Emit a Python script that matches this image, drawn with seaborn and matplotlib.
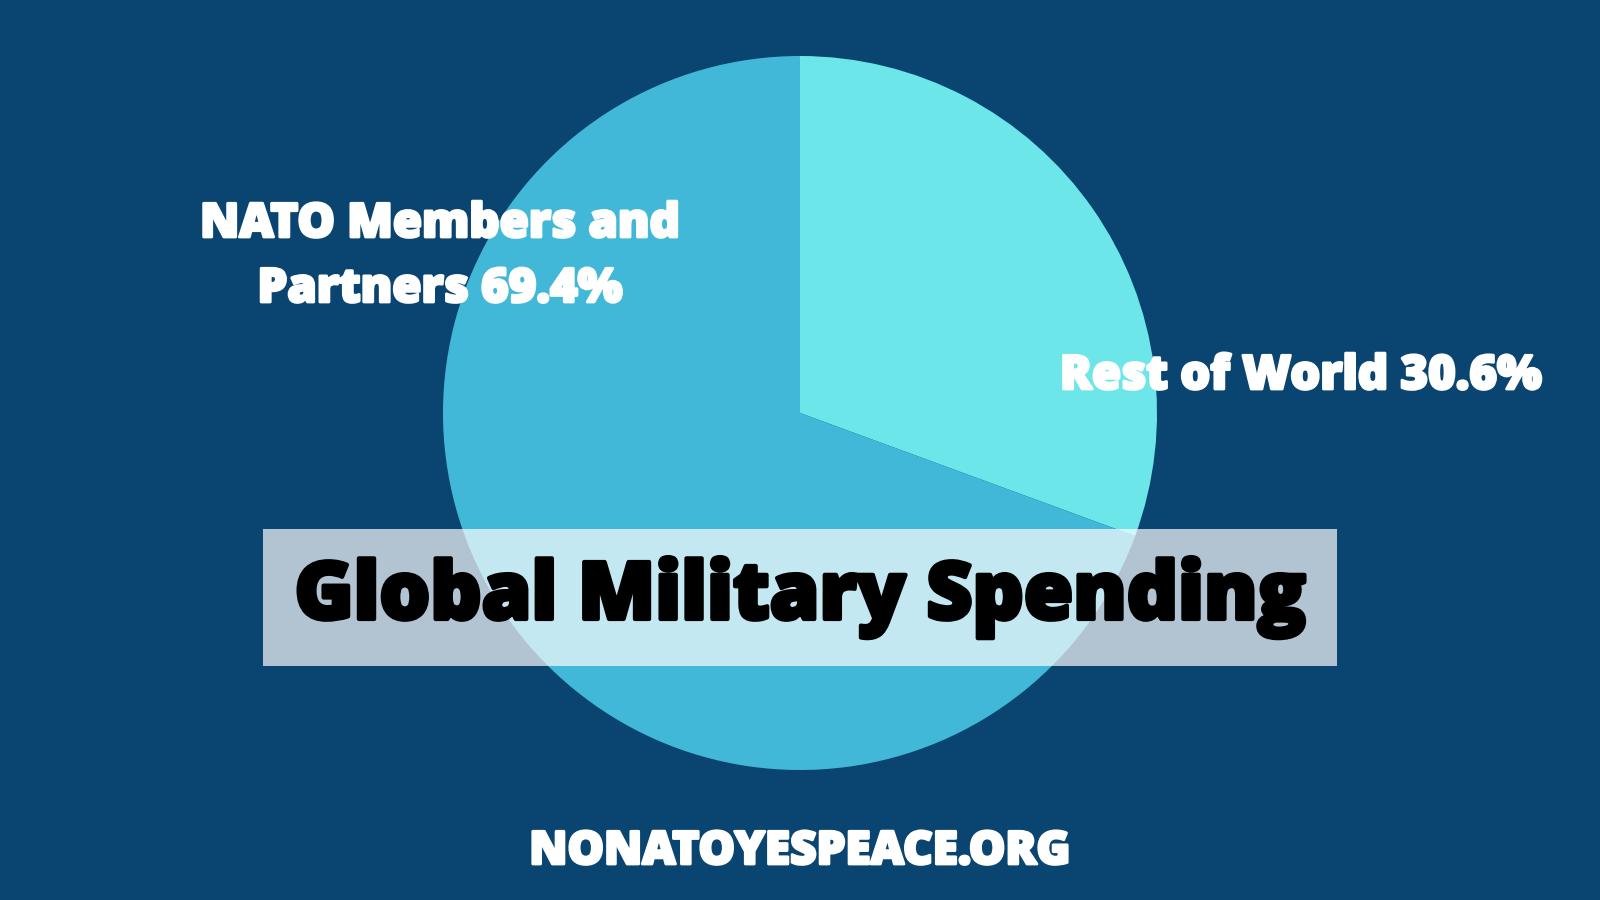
import matplotlib
matplotlib.use("Agg")
import matplotlib.pyplot as plt
import matplotlib.patches as mpatches
import matplotlib.patheffects as pe
import seaborn as sns

# data
groups = ["Rest of World", "NATO Members and\nPartners"]
shares = [30.6, 69.4]
title = "Global Military Spending"
site = "NONATOYESPEACE.ORG"

bg = "#0a4470"
slice_colors = sns.color_palette(["#6ce6e8", "#42b8d8"])

sns.set_theme(style="white")
plt.rcParams["font.family"] = ["Open Sans", "DejaVu Sans"]


def heavy(color, w=2.0):
    return [pe.withStroke(linewidth=w, foreground=color)]


fig = plt.figure(figsize=(16, 9), dpi=100, facecolor=bg)
ax = fig.add_axes([0, 0, 1, 1])
ax.set_facecolor(bg)

ax.pie(shares, colors=slice_colors, startangle=90, counterclock=False,
       center=(800, 487), radius=357, wedgeprops=dict(linewidth=0))
ax.set_xlim(0, 1600)
ax.set_ylim(0, 900)
ax.set_aspect("equal")
ax.axis("off")

# slice labels
first, second = groups[1].split("\n")
ax.text(440, 663, first, ha="center", va="baseline", color="white",
        fontsize=34, fontweight="heavy", path_effects=heavy("white"))
ax.text(440, 598, f"{second} {shares[1]}%", ha="center", va="baseline",
        color="white", fontsize=34, fontweight="heavy",
        path_effects=heavy("white"))
ax.text(1301, 511, f"{groups[0]} {shares[0]}%", ha="center", va="baseline",
        color="white", fontsize=34, fontweight="heavy",
        path_effects=heavy("white"))

# title banner
ax.add_patch(mpatches.Rectangle((263, 234), 1074, 137, facecolor="white",
                                alpha=0.69, linewidth=0, zorder=3))
ax.text(800, 281, title, ha="center", va="baseline", color="black",
        fontsize=57.5, fontweight="heavy", zorder=4,
        path_effects=heavy("black", 3))

ax.text(800, 36, site, ha="center", va="baseline", color="white",
        fontsize=33, fontweight="heavy", path_effects=heavy("white"))

fig.savefig("out.png", dpi=100, facecolor=bg)
